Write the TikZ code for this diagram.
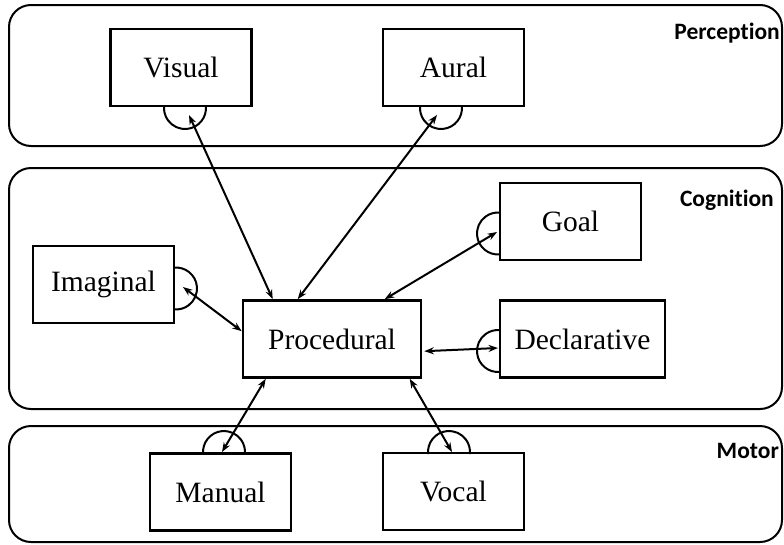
\documentclass[tikz,border=0pt]{standalone}
\usepackage{fontspec}
\setmainfont{Liberation Serif}
\newfontfamily\tagfont[Ligatures=NoCommon]{Carlito}
\usetikzlibrary{arrows.meta,calc}
\definecolor{ink}{HTML}{000000}
\tikzset{
  every node/.style={text=ink,inner sep=0pt},
  module/.style={draw=ink,line width=2.6pt,fill=white,minimum width=141,
                 minimum height=77,font=\fontsize{29.5}{33}\selectfont},
  panel/.style={draw=ink,line width=2pt,rounded corners=22pt},
  tag/.style={font=\tagfont\bfseries\fontsize{23.5}{26}\selectfont,anchor=east},
  link/.style={{Stealth[length=9.5pt,width=7pt]}-{Stealth[length=9.5pt,width=7pt]},
               draw=ink,line width=2pt},
  bufarc/.style={draw=ink,line width=2pt},
}
% buffer mark: a cup of radius 21 round #1, opening towards the module, bulging to angle #2
\newcommand{\bufcup}[2]{%
  \draw[bufarc] ($(#1)+(#2-96:21)$) arc[start angle=#2-96,end angle=#2+96,radius=21];}

\begin{document}
\begin{tikzpicture}[x=1pt,y=-1pt]           % pixel units, y down
\path[use as bounding box] (0,0) rectangle (784,544);

% The three layers.
\draw[panel] (9,5) rectangle (782,146);
\draw[panel] (9,168) rectangle (782,409);
\draw[panel] (9,426) rectangle (782,542);
\node[tag] (percep) at (780,33) {Perception};
\node[tag] (cognit) at (774,200) {Cognition};
\node[tag] (motor) at (779,451) {Motor};

% Modules.
\node[module] (vis) at (181,67.5) {Visual};
\node[module] (aur) at (453.5,67.5) {Aural};
\node[module] (ima) at (103.5,284.5) {Imaginal};
\node[module] (goal) at (570.5,221.5) {Goal};
\node[module,minimum width=165] (decl) at (582.5,339) {Declarative};
\node[module,minimum width=178] (proc) at (332,339) {Procedural};
\node[module] (man) at (220.5,492) {Manual};
\node[module] (voc) at (453.5,491.5) {Vocal};

% Buffers sit on the module edge; each link ends inside its buffer.
\bufcup{185,108}{90}
\bufcup{441,108}{90}
\bufcup{176,288.5}{0}
\bufcup{498,233.5}{180}
\bufcup{498,351}{180}
\bufcup{224,452}{-90}
\bufcup{449,452}{-90}
\coordinate (visB) at (189,115);
\coordinate (aurB) at (437,115);
\coordinate (imaB) at (183,287);
\coordinate (goalB) at (497,232);
\coordinate (declB) at (498,348);
\coordinate (manB) at (222,452);
\coordinate (vocB) at (452,452);

\draw[link] (visB) -- ($(proc.north west)+(31,0)$);
\draw[link] (aurB) -- ($(proc.north west)+(56,0)$);
\draw[link] (goalB) -- ($(proc.north west)+(143,0)$);
\draw[link] (imaB) -- ($(proc.north west)+(0,32)$);
\draw[link] (declB) -- ($(proc.north east)+(2,52)$);
\draw[link] (manB) -- ($(proc.south west)+(24,0)$);
\draw[link] (vocB) -- ($(proc.south west)+(168,0)$);

\end{tikzpicture}
\end{document}
